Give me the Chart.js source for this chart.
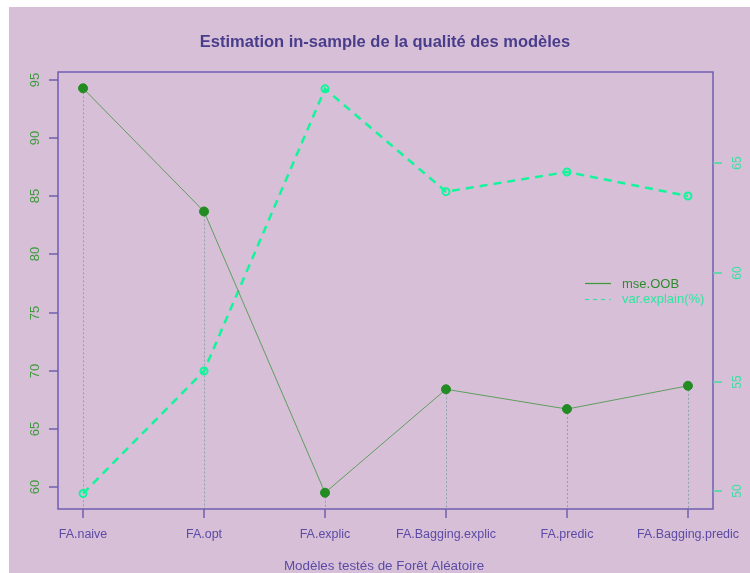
<!DOCTYPE html>
<html>
<head>
<meta charset="utf-8">
<script src="https://cdn.jsdelivr.net/npm/chart.js@4"></script>
<style>
  html, body { margin: 0; padding: 0; background: #fff; }
  #wrap { width: 750px; height: 573px; }
</style>
</head>
<body>
<div id="wrap"><canvas id="chart" width="750" height="573"></canvas></div>
<script>
// modeles testes
const categories = ['FA.naive', 'FA.opt', 'FA.explic', 'FA.Bagging.explic', 'FA.predic', 'FA.Bagging.predic'];
const mseOOB = [94.3, 83.7, 59.5, 68.4, 66.7, 68.7];
const varExplain = [49.9, 55.5, 68.4, 63.7, 64.6, 63.5];
const leftTicks = [60, 65, 70, 75, 80, 85, 90, 95];
const rightTicks = [50, 55, 60, 65];

const bg = '#D8BFD8';
const axisCol = '#6F5FB0';
const darkGreen = '#228B22';
const springGreen = '#12F59A';
const font = size => size + 'px "Liberation Sans", Arial, sans-serif';

const toPoints = arr => arr.map((v, i) => ({ x: i, y: v }));

// draws the R-like frame, ticks, labels, title and legend
const rStyle = {
    id: 'rStyle',
    beforeDraw(chart) {
        const ctx = chart.ctx;
        ctx.save();
        ctx.fillStyle = '#fff';
        ctx.fillRect(0, 0, chart.width, chart.height);
        ctx.fillStyle = bg;
        ctx.fillRect(9, 7, chart.width - 9, chart.height - 7);
        ctx.restore();
    },
    beforeDatasetsDraw(chart) {
        const ctx = chart.ctx;
        const xs = chart.scales.x, ys = chart.scales.y;
        const area = chart.chartArea;
        // vertical dotted lines (type h)
        ctx.save();
        ctx.strokeStyle = '#8EA2B0';
        ctx.lineWidth = 1;
        ctx.setLineDash([2, 2]);
        mseOOB.forEach((v, i) => {
            const px = Math.round(xs.getPixelForValue(i)) + 0.5;
            ctx.beginPath();
            ctx.moveTo(px, ys.getPixelForValue(v));
            ctx.lineTo(px, area.bottom);
            ctx.stroke();
        });
        ctx.restore();
    },
    afterDraw(chart) {
        const ctx = chart.ctx;
        const xs = chart.scales.x, ys = chart.scales.y, y2 = chart.scales.y2;
        const a = chart.chartArea;
        ctx.save();
        ctx.setLineDash([]);

        // frame
        ctx.strokeStyle = axisCol;
        ctx.lineWidth = 1.5;
        ctx.strokeRect(a.left, a.top, a.right - a.left, a.bottom - a.top);

        // bottom axis
        ctx.font = font(12.5);
        ctx.textAlign = 'center';
        ctx.textBaseline = 'middle';
        ctx.fillStyle = '#5B4BA5';
        categories.forEach((c, i) => {
            const px = Math.round(xs.getPixelForValue(i));
            ctx.beginPath();
            ctx.moveTo(px, a.bottom);
            ctx.lineTo(px, a.bottom + 9);
            ctx.stroke();
            ctx.fillText(c, px, 535);
        });

        // left axis
        leftTicks.forEach(t => {
            const py = Math.round(ys.getPixelForValue(t));
            ctx.strokeStyle = axisCol;
            ctx.beginPath();
            ctx.moveTo(a.left - 9, py);
            ctx.lineTo(a.left, py);
            ctx.stroke();
            ctx.save();
            ctx.translate(35, py);
            ctx.rotate(-Math.PI / 2);
            ctx.fillStyle = '#3C9A3C';
            ctx.font = font(13);
            ctx.fillText(String(t), 0, 0);
            ctx.restore();
        });

        // right axis
        rightTicks.forEach(t => {
            const py = Math.round(y2.getPixelForValue(t));
            ctx.strokeStyle = '#3EDC9E';
            ctx.beginPath();
            ctx.moveTo(a.right, py);
            ctx.lineTo(a.right + 9, py);
            ctx.stroke();
            ctx.save();
            ctx.translate(738, py);
            ctx.rotate(-Math.PI / 2);
            ctx.fillStyle = '#38E0A2';
            ctx.font = font(12);
            ctx.fillText(String(t), 0, 0);
            ctx.restore();
        });

        // titles
        ctx.fillStyle = '#483D8B';
        ctx.font = 'bold ' + font(16.5);
        ctx.fillText('Estimation in-sample de la qualité des modèles', 385, 42);
        ctx.fillStyle = '#5B4BA5';
        ctx.font = font(13.4);
        ctx.fillText('Modèles testés de Forêt Aléatoire', 384, 566);

        // legend
        ctx.textAlign = 'left';
        ctx.font = font(13);
        ctx.lineWidth = 1.2;
        ctx.strokeStyle = '#3A9A3A';
        ctx.beginPath();
        ctx.moveTo(585, 283.5);
        ctx.lineTo(611, 283.5);
        ctx.stroke();
        ctx.fillStyle = '#2E8B2E';
        ctx.fillText('mse.OOB', 622, 284);
        ctx.strokeStyle = '#3EDCA0';
        ctx.setLineDash([4, 4]);
        ctx.beginPath();
        ctx.moveTo(585, 299.5);
        ctx.lineTo(611, 299.5);
        ctx.stroke();
        ctx.setLineDash([]);
        ctx.fillStyle = '#2EE6A0';
        ctx.fillText('var.explain(%)', 622, 299);

        ctx.restore();
    }
};

new Chart(document.getElementById('chart'), {
    type: 'line',
    data: {
        datasets: [
            {
                label: 'mse.OOB',
                data: toPoints(mseOOB),
                yAxisID: 'y',
                borderColor: '#5E9E5E',
                borderWidth: 1,
                pointRadius: 4.5,
                pointBackgroundColor: darkGreen,
                pointBorderColor: darkGreen,
                pointBorderWidth: 1,
                tension: 0
            },
            {
                label: 'var.explain(%)',
                data: toPoints(varExplain),
                yAxisID: 'y2',
                borderColor: springGreen,
                borderWidth: 2.5,
                borderDash: [8, 6],
                pointRadius: 3.5,
                pointBackgroundColor: 'rgba(0,0,0,0)',
                pointBorderColor: springGreen,
                pointBorderWidth: 2,
                tension: 0
            }
        ]
    },
    options: {
        responsive: false,
        animation: false,
        layout: { padding: { left: 58, top: 72, right: 37, bottom: 64 } },
        scales: {
            x: { type: 'linear', display: false, min: -0.207, max: 5.207 },
            y: { type: 'linear', position: 'left', display: false, min: 58.1, max: 95.7 },
            y2: { type: 'linear', position: 'right', display: false, min: 49.19, max: 69.17 }
        },
        plugins: {
            legend: { display: false },
            tooltip: { enabled: false }
        }
    },
    plugins: [rStyle]
});
</script>
</body>
</html>
